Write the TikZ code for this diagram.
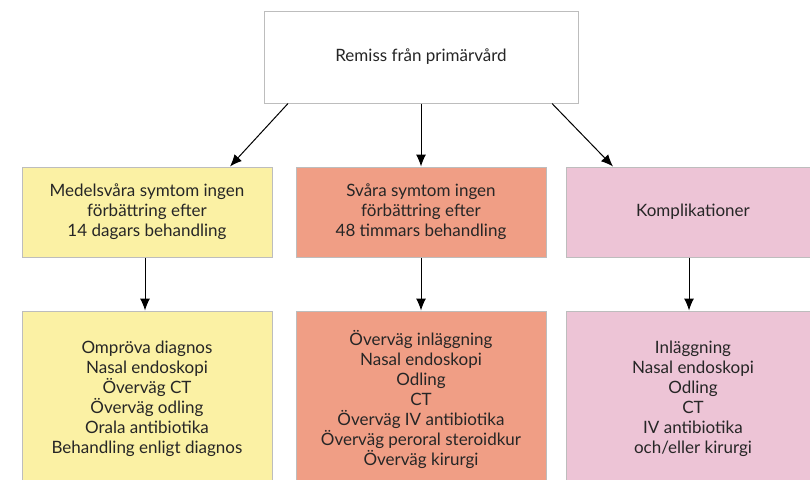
\documentclass[tikz,border=0pt]{standalone}
\usepackage{fontspec}
\setmainfont{Lato}
\usetikzlibrary{arrows.meta}
\definecolor{boxline}{HTML}{BDBDBD}
\definecolor{mild}{HTML}{FBF1A4}
\definecolor{severe}{HTML}{F09E85}
\definecolor{compl}{HTML}{EDC4D6}
\tikzset{
  box/.style={draw=boxline, line width=1pt, align=center, inner sep=0pt,
    font=\fontsize{17}{20}\selectfont, text=black!85},
  flow/.style={line width=1pt, -{Latex[length=12pt,width=10pt]}},
}
\begin{document}
\begin{tikzpicture}[x=1pt,y=-1pt]
\useasboundingbox (0,0) rectangle (810,479);
% referral
\node[box, fill=white, minimum width=314pt, minimum height=92pt] (ref) at (421,57) {Remiss från primärvård};
% second row: indications
\node[box, fill=mild, minimum width=250pt, minimum height=90pt] (mid1) at (147,212)
  {Medelsvåra symtom ingen\\förbättring efter\\14 dagars behandling};
\node[box, fill=severe, minimum width=250pt, minimum height=90pt] (mid2) at (421,212)
  {Svåra symtom ingen\\förbättring efter\\48 timmars behandling};
\node[box, fill=compl, minimum width=254pt, minimum height=90pt] (mid3) at (693,212)
  {Komplikationer};
% third row: actions
\node[box, fill=mild, minimum width=250pt, minimum height=176pt] (low1) at (147,399)
  {Ompröva diagnos\\Nasal endoskopi\\Överväg CT\\Överväg odling\\Orala antibiotika\\Behandling enligt diagnos};
\node[box, fill=severe, minimum width=250pt, minimum height=176pt] (low2) at (421,399)
  {Överväg inläggning\\Nasal endoskopi\\Odling\\CT\\Överväg IV antibiotika\\Överväg peroral steroidkur\\Överväg kirurgi};
\node[box, fill=compl, minimum width=254pt, minimum height=176pt] (low3) at (693,399)
  {Inläggning\\Nasal endoskopi\\Odling\\CT\\IV antibiotika\\och/eller kirurgi};
% connectors
\draw[flow] ([xshift=-133pt]ref.south) -- ([xshift=83pt]mid1.north);
\draw[flow] (ref.south) -- (mid2.north);
\draw[flow] ([xshift=131pt]ref.south) -- ([xshift=-80pt]mid3.north);
\draw[flow] ([xshift=-2pt]mid1.south) -- ([xshift=-2pt]low1.north);
\draw[flow] (mid2.south) -- (low2.north);
\draw[flow] ([xshift=-4pt]mid3.south) -- ([xshift=-4pt]low3.north);
\end{tikzpicture}
\end{document}
